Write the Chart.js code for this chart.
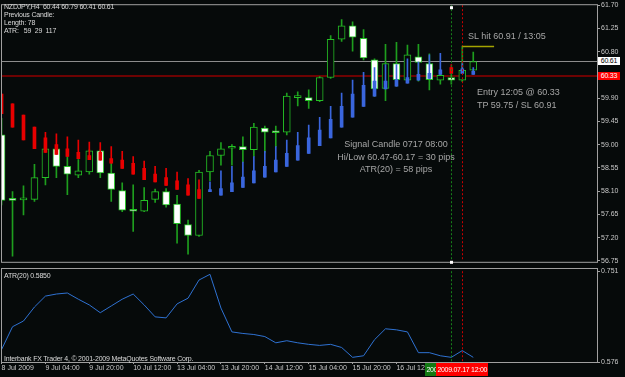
<!DOCTYPE html>
<html>
<head>
<meta charset="utf-8">
<script src="https://cdn.jsdelivr.net/npm/chart.js@4.4.1/dist/chart.umd.min.js"></script>
<style>
  html, body { margin: 0; padding: 0; background: #060a0a; overflow: hidden; }
  #wrap { position: relative; width: 625px; height: 377px; }
  canvas { position: absolute; left: 0; }
  #main { top: 0; }
  #atr { top: 266px; }
  .t { position: absolute; white-space: pre; font-family: "Liberation Sans", Arial, sans-serif; }
  .ui { font-size: 7px; color: #dadada; letter-spacing: -0.2px; line-height: 8px; }
  .note { font-size: 9px; color: #a6a6a6; }
  .box { font-size: 7px; height: 8px; line-height: 8px; text-align: center; letter-spacing: -0.2px; }
  .tbox { font-size: 7px; height: 13px; line-height: 13px; width: 52px; text-align: center; color: #fff; letter-spacing: -0.3px; }
</style>
</head>
<body>
<div id="wrap">
  <canvas id="main" width="625" height="266"></canvas>
  <canvas id="atr" width="625" height="111"></canvas>

  <div class="t ui" style="left:4px;top:3px">NZDJPY,H4  60.44 60.79 60.41 60.61
Previous Candle:
Length: 78
ATR:   59  29  117</div>

  <div class="t note" style="left:468px;top:31px">SL hit 60.91 / 13:05</div>
  <div class="t note" style="left:477px;top:86px;line-height:13px">Entry 12:05 @ 60.33
TP 59.75 / SL 60.91</div>
  <div class="t note" style="left:316px;top:138px;width:160px;text-align:center;line-height:12.5px">Signal Candle 0717 08:00
Hi/Low 60.47-60.17 = 30 pips
ATR(20) = 58 pips</div>

  <div class="t ui" style="left:4px;top:272px">ATR(20) 0.5850</div>
  <div class="t ui" style="left:4px;top:355px">Interbank FX Trader 4, © 2001-2009 MetaQuotes Software Corp.</div>

  <div id="bidBox" class="t box" style="left:598px;width:22px;background:#ffffff;color:#000">60.61</div>
  <div id="entryBox" class="t box" style="left:598px;width:22px;background:#ff0000;color:#fff">60.33</div>
  <div id="sigLbl" class="t tbox" style="top:363px;background:#137a13"></div>
  <div id="entryLbl" class="t tbox" style="top:363px;background:#ff0000"></div>
</div>

<script>
// ---- NZDJPY H4, 8 Jul 12:00 .. 17 Jul 16:00 2009 ----
const barTimes = [
  '2009.07.08 12:00', '2009.07.08 16:00', '2009.07.08 20:00',
  '2009.07.09 00:00', '2009.07.09 04:00', '2009.07.09 08:00', '2009.07.09 12:00', '2009.07.09 16:00', '2009.07.09 20:00',
  '2009.07.10 00:00', '2009.07.10 04:00', '2009.07.10 08:00', '2009.07.10 12:00', '2009.07.10 16:00', '2009.07.10 20:00',
  '2009.07.13 00:00', '2009.07.13 04:00', '2009.07.13 08:00', '2009.07.13 12:00', '2009.07.13 16:00', '2009.07.13 20:00',
  '2009.07.14 00:00', '2009.07.14 04:00', '2009.07.14 08:00', '2009.07.14 12:00', '2009.07.14 16:00', '2009.07.14 20:00',
  '2009.07.15 00:00', '2009.07.15 04:00', '2009.07.15 08:00', '2009.07.15 12:00', '2009.07.15 16:00', '2009.07.15 20:00',
  '2009.07.16 00:00', '2009.07.16 04:00', '2009.07.16 08:00', '2009.07.16 12:00', '2009.07.16 16:00', '2009.07.16 20:00',
  '2009.07.17 00:00', '2009.07.17 04:00', '2009.07.17 08:00', '2009.07.17 12:00', '2009.07.17 16:00'
];

const openPx = [
  59.19, 57.94, 57.93, 57.94, 58.36, 58.92, 58.58, 58.41, 58.47, 58.88,
  58.45, 58.11, 57.73, 57.71, 57.94, 58.09, 57.85, 57.45, 57.24, 58.47,
  58.79, 58.93, 58.96, 58.90, 59.32, 59.24, 59.24, 59.91, 59.91, 59.85,
  60.30, 61.04, 61.30, 61.06, 60.64, 60.09, 60.57, 60.25, 60.70, 60.57,
  60.25, 60.30, 60.25, 60.44
];
const highPx = [
  59.51, 58.09, 58.20, 58.62, 58.95, 58.97, 58.77, 58.71, 58.90, 58.90,
  58.64, 58.26, 58.22, 58.17, 58.14, 58.15, 58.02, 57.54, 58.50, 58.87,
  59.04, 59.00, 59.15, 59.41, 59.36, 59.36, 60.00, 60.02, 60.06, 60.32,
  61.11, 61.42, 61.38, 61.23, 60.66, 60.94, 60.98, 60.93, 60.94, 60.76,
  60.38, 60.47, 60.91, 60.79
];
const lowPx = [
  57.83, 56.84, 57.64, 57.90, 58.22, 58.36, 58.03, 58.36, 58.43, 58.36,
  57.90, 57.70, 57.32, 57.70, 57.88, 57.79, 57.09, 56.88, 57.22, 58.30,
  58.60, 58.60, 58.66, 58.77, 58.85, 58.96, 59.19, 59.75, 59.70, 59.83,
  60.28, 61.00, 60.81, 60.64, 59.94, 59.85, 60.13, 60.23, 60.23, 60.06,
  60.17, 60.17, 60.22, 60.41
];
const closePx = [
  57.92, 57.92, 57.94, 58.36, 58.92, 58.58, 58.43, 58.49, 58.88, 58.45,
  58.13, 57.73, 57.71, 57.92, 58.09, 57.83, 57.47, 57.24, 58.47, 58.79,
  58.92, 58.94, 58.90, 59.34, 59.24, 59.23, 59.94, 59.92, 59.85, 60.30,
  61.04, 61.30, 61.08, 60.68, 60.08, 60.57, 60.26, 60.74, 60.59, 60.26,
  60.34, 60.25, 60.44, 60.61
];

// trend bars drawn over the candles: r = red (down), b = blue (up)
const sigColor = [
  'r','r','r','r','r','r','r','r','r','r',
  'r','r','r','r','r','r','r','r','r','b',
  'b','b','b','b','b','b','b','b','b','b',
  'b','b','b','b','b','b','b','b','b','b',
  'b','r','b','b'
];
const sigHigh = [
  59.98, 59.79, 59.57, 59.34, 59.24, 59.21, 59.15, 59.09, 59.05, 59.04,
  58.96, 58.87, 58.77, 58.68, 58.58, 58.54, 58.47, 58.34, 58.32, 58.28,
  58.49, 58.58, 58.66, 58.77, 58.87, 58.96, 59.09, 59.24, 59.38, 59.53,
  59.74, 60.00, 60.25, 60.40, 60.49, 60.55, 60.55, 60.66, 60.60, 60.74,
  60.77, 60.55, 60.57, 60.49
];
const sigTop = [
  59.98, 59.79, 59.57, 59.34, 59.13, 59.00, 58.92, 58.85, 58.79, 58.85,
  58.73, 58.70, 58.64, 58.54, 58.43, 58.36, 58.30, 58.22, 58.13, 58.13,
  58.15, 58.26, 58.37, 58.49, 58.58, 58.70, 58.83, 58.98, 59.13, 59.28,
  59.49, 59.74, 59.98, 60.15, 60.23, 60.23, 60.26, 60.30, 60.36, 60.38,
  60.45, 60.49, 60.47, 60.42
];
const sigLow = [
  59.60, 59.34, 59.09, 58.92, 58.85, 58.81, 58.77, 58.73, 58.71, 58.70,
  58.64, 58.54, 58.43, 58.32, 58.28, 58.21, 58.13, 58.02, 57.96, 58.09,
  58.02, 58.09, 58.17, 58.26, 58.37, 58.47, 58.58, 58.70, 58.83, 58.98,
  59.13, 59.34, 59.53, 59.74, 59.94, 60.08, 60.13, 60.19, 60.25, 60.28,
  60.36, 60.38, 60.38, 60.36
];

const atrValues = [
  0.600, 0.644, 0.655, 0.682, 0.703, 0.707, 0.709, 0.697, 0.686, 0.671,
  0.684, 0.697, 0.707, 0.686, 0.663, 0.661, 0.688, 0.699, 0.734, 0.745,
  0.680, 0.634, 0.631, 0.629, 0.625, 0.613, 0.617, 0.613, 0.610, 0.608,
  0.610, 0.604, 0.585, 0.588, 0.619, 0.640, 0.638, 0.634, 0.594, 0.594,
  0.588, 0.585, 0.598, 0.585
];

const priceTicks = [61.70, 61.25, 60.80, 60.35, 59.90, 59.45, 59.00, 58.55, 58.10, 57.65, 57.20, 56.75];
const atrTicks = [0.751, 0.576];
// one time label every 4 bars, starting at the first bar
const timeTicks = ['8 Jul 2009', '9 Jul 04:00', '9 Jul 20:00', '10 Jul 12:00', '13 Jul 04:00',
                   '13 Jul 20:00', '14 Jul 12:00', '15 Jul 04:00', '15 Jul 20:00', '16 Jul 12:00'];

const bidPrice = 60.61;
const entryPrice = 60.33;
const slPrice = 60.91;
const signalBar = barTimes.indexOf('2009.07.17 08:00');
const entryBar = barTimes.indexOf('2009.07.17 12:00');

// ---- look ----
const BG = '#060a0a';
const FRAME = '#a0a0a0';
const TICKTXT = '#c8c8c8';
const CANDLE = '#25c025';
const WICK = '#1e9e1e';
const RED = '#e80000';
const BLUE = '#3a66dd';
const FONT = { family: 'Liberation Sans', size: 7 };
// bar slots: about 54 on screen, the last ten are left empty (chart shift)
const xMin = -0.05, xMax = 54.28;

const idx = barTimes.map((_, i) => i);
const sigCol = idx.map(i => sigColor[i] === 'r' ? RED : BLUE);

function drawFrame(chart, top, bottom) {
  const { ctx, chartArea: a } = chart;
  ctx.save();
  ctx.strokeStyle = FRAME;
  ctx.lineWidth = 1;
  ctx.strokeRect(a.left + 0.5, top, a.right - a.left, bottom - top);
  ctx.restore();
}

function drawMarkers(chart) {
  const { ctx, chartArea: a, scales: { x } } = chart;
  ctx.save();
  ctx.lineWidth = 1;
  const xs = Math.round(x.getPixelForValue(signalBar)) + 0.5;
  ctx.strokeStyle = '#16801a';
  ctx.setLineDash([2, 2]);
  ctx.beginPath(); ctx.moveTo(xs, a.top); ctx.lineTo(xs, a.bottom); ctx.stroke();
  const xe = Math.round(x.getPixelForValue(entryBar)) + 0.5;
  ctx.strokeStyle = '#c80000';
  ctx.setLineDash([2, 2]);
  ctx.beginPath(); ctx.moveTo(xe, a.top); ctx.lineTo(xe, a.bottom); ctx.stroke();
  ctx.restore();
}

const mainPlugin = {
  id: 'mainOverlay',
  beforeDatasetsDraw(chart) {
    const { ctx, chartArea: a, scales: { y } } = chart;
    ctx.save();
    const yb = Math.round(y.getPixelForValue(bidPrice)) + 0.5;
    ctx.strokeStyle = '#8c8c8c'; ctx.lineWidth = 1;
    ctx.beginPath(); ctx.moveTo(a.left, yb); ctx.lineTo(a.right, yb); ctx.stroke();
    const ye = Math.round(y.getPixelForValue(entryPrice));
    ctx.strokeStyle = '#900000'; ctx.lineWidth = 1.5;
    ctx.beginPath(); ctx.moveTo(a.left, ye); ctx.lineTo(a.right, ye); ctx.stroke();
    ctx.restore();
  },
  afterDatasetsDraw(chart) {
    const { ctx, chartArea: a, scales: { x, y } } = chart;
    drawMarkers(chart);
    ctx.save();
    // stop-loss hit marker
    const ys = Math.round(y.getPixelForValue(slPrice)) + 0.5;
    ctx.strokeStyle = '#a4a400'; ctx.lineWidth = 1.5;
    ctx.beginPath();
    ctx.moveTo(x.getPixelForValue(entryBar), ys);
    ctx.lineTo(x.getPixelForValue(entryBar + 2.9), ys);
    ctx.stroke();
    ctx.restore();
    drawFrame(chart, a.top - 0.5, a.bottom + 1.5);
    // selection handles of the signal line
    const xs = Math.round(x.getPixelForValue(signalBar));
    ctx.fillStyle = '#ffffff';
    ctx.fillRect(xs - 1, a.top + 1, 3, 3);
    ctx.fillRect(xs - 1, a.bottom, 3, 3);
  }
};

const mainChart = new Chart(document.getElementById('main'), {
  type: 'bar',
  data: {
    datasets: [
      { data: idx.map(i => ({ x: i, y: [sigLow[i], sigTop[i]] })), barThickness: 3, backgroundColor: sigCol, order: 1 },
      { data: idx.map(i => ({ x: i, y: [sigLow[i], sigHigh[i]] })), barThickness: 1, backgroundColor: sigCol, order: 2 },
      { data: idx.map(i => ({ x: i, y: [openPx[i], closePx[i]] })), barThickness: 7,
        backgroundColor: idx.map(i => closePx[i] >= openPx[i] ? BG : '#ffffff'),
        borderColor: CANDLE, borderWidth: 1, borderSkipped: false, minBarLength: 2, order: 3 },
      { data: idx.map(i => ({ x: i, y: [lowPx[i], highPx[i]] })), barThickness: 1, backgroundColor: WICK, order: 4 }
    ]
  },
  options: {
    responsive: false,
    animation: false,
    devicePixelRatio: 1,
    layout: { padding: { left: 1, top: 2, right: 0, bottom: 2 } },
    datasets: { bar: { grouped: false } },
    plugins: { legend: { display: false }, tooltip: { enabled: false } },
    scales: {
      x: { type: 'linear', min: xMin, max: xMax, display: false, offset: false, grid: { offset: false } },
      y: {
        position: 'right', min: 56.75, max: 61.70,
        afterBuildTicks: s => { s.ticks = priceTicks.map(v => ({ value: v })); },
        afterFit: s => { s.width = 28; },
        border: { display: false },
        grid: { drawOnChartArea: false, tickLength: 3, color: FRAME },
        ticks: { color: TICKTXT, font: FONT, padding: 1, callback: v => v.toFixed(2) }
      }
    }
  },
  plugins: [mainPlugin]
});

const atrPlugin = {
  id: 'atrOverlay',
  afterDatasetsDraw(chart) {
    drawMarkers(chart);
    drawFrame(chart, 2.5, chart.chartArea.bottom + 0.5);
  }
};

const atrChart = new Chart(document.getElementById('atr'), {
  type: 'line',
  data: {
    datasets: [{
      data: atrValues.map((v, i) => ({ x: i, y: v })),
      borderColor: '#2f72d2', borderWidth: 1, pointRadius: 0, tension: 0
    }]
  },
  options: {
    responsive: false,
    animation: false,
    devicePixelRatio: 1,
    layout: { padding: { left: 1, top: 5, right: 0, bottom: 0 } },
    plugins: { legend: { display: false }, tooltip: { enabled: false } },
    scales: {
      x: {
        type: 'linear', min: xMin, max: xMax, position: 'bottom', offset: false,
        afterBuildTicks: s => { s.ticks = timeTicks.map((t, k) => ({ value: k * 4 })); },
        afterFit: s => { s.height = 15; },
        border: { display: false },
        grid: { drawOnChartArea: false, tickLength: 2, color: FRAME, offset: false },
        ticks: { align: 'start', color: TICKTXT, font: FONT, padding: 0, maxRotation: 0, autoSkip: false,
                 callback: (v, i) => timeTicks[i] }
      },
      y: {
        position: 'right', min: 0.576, max: 0.751,
        afterBuildTicks: s => { s.ticks = atrTicks.map(v => ({ value: v })); },
        afterFit: s => { s.width = 28; },
        border: { display: false },
        grid: { drawOnChartArea: false, tickLength: 3, color: FRAME },
        ticks: { color: TICKTXT, font: FONT, padding: 1, callback: v => v.toFixed(3) }
      }
    }
  },
  plugins: [atrPlugin]
});

// price boxes on the right scale, time boxes under the vertical lines
const py = mainChart.scales.y;
document.getElementById('bidBox').style.top = (py.getPixelForValue(bidPrice) - 4) + 'px';
document.getElementById('entryBox').style.top = (py.getPixelForValue(entryPrice) - 4) + 'px';
const ax = atrChart.scales.x;
const sigLbl = document.getElementById('sigLbl');
sigLbl.textContent = barTimes[signalBar];
sigLbl.style.left = (ax.getPixelForValue(signalBar) - 26) + 'px';
const entryLbl = document.getElementById('entryLbl');
entryLbl.textContent = barTimes[entryBar];
entryLbl.style.left = (ax.getPixelForValue(entryBar) - 26) + 'px';
</script>
</body>
</html>
